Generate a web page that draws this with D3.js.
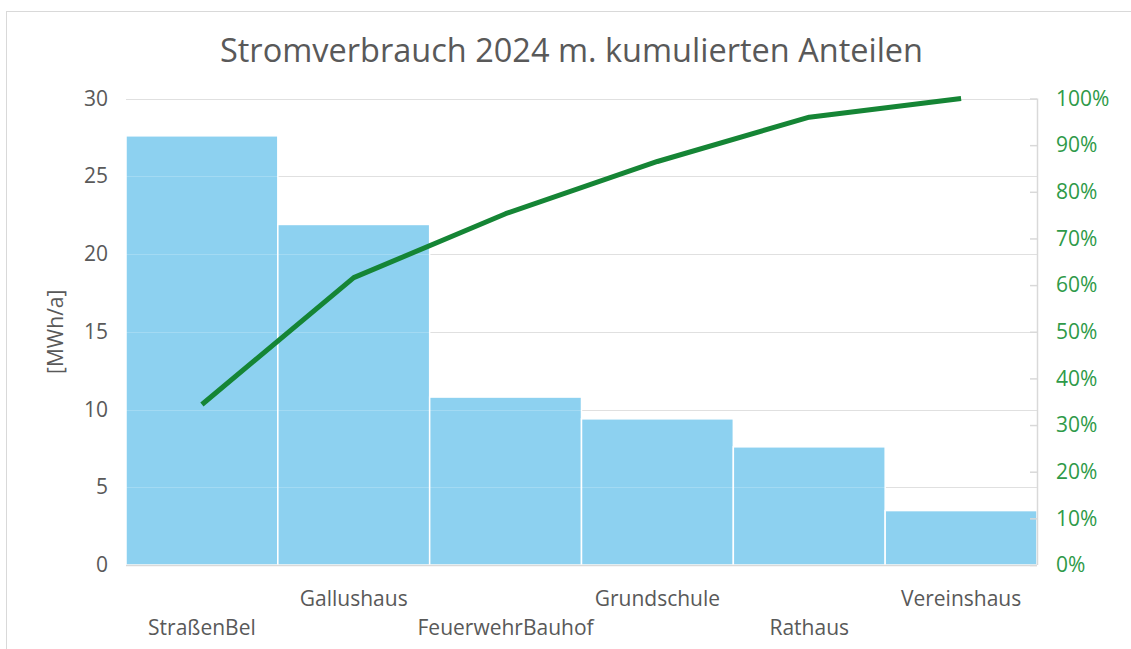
<!DOCTYPE html>
<html>
<head>
<meta charset="utf-8">
<script src="https://cdn.jsdelivr.net/npm/d3@7"></script>
<style>
  html, body { margin: 0; padding: 0; background: #fff; }
  svg { display: block; }
  text { font-family: "Open Sans", "Noto Sans", sans-serif; }
</style>
</head>
<body>
<svg id="chart" width="1131" height="649"></svg>
<script>
const titleText = "Stromverbrauch 2024 m. kumulierten Anteilen";
const yAxisTitle = "[MWh/a]";
const categories = ["StraßenBel", "Gallushaus", "FeuerwehrBauhof", "Grundschule", "Rathaus", "Vereinshaus"];
const consumption = [27.6, 21.9, 10.8, 9.4, 7.6, 3.5];
const cumulativeShare = [34.4, 61.6, 75.3, 86.5, 96.0, 100];
const leftTicks = [0, 5, 10, 15, 20, 25, 30];
const rightTicks = [0, 10, 20, 30, 40, 50, 60, 70, 80, 90, 100];

const svg = d3.select("#chart");
const W = 1131, H = 649;
const plot = { left: 126, right: 1037, top: 98.5, bottom: 565 };

// outer chart border
svg.append("rect")
  .attr("x", 6.5).attr("y", 11.5)
  .attr("width", W + 10).attr("height", H + 10)
  .attr("fill", "#fff").attr("stroke", "#d9d9d9").attr("stroke-width", 1);

const x = d3.scaleBand().domain(categories).range([plot.left, plot.right]).padding(0);
const y = d3.scaleLinear().domain([0, 30]).range([plot.bottom, plot.top]);
const y2 = d3.scaleLinear().domain([0, 100]).range([plot.bottom, plot.top]);

// gridlines
svg.append("g").selectAll("line").data(leftTicks.filter(d => d > 0)).join("line")
  .attr("x1", plot.left).attr("x2", plot.right)
  .attr("y1", d => Math.round(y(d)) + 0.5).attr("y2", d => Math.round(y(d)) + 0.5)
  .attr("stroke", "#d9d9d9").attr("stroke-width", 1.2);

// bars
svg.append("g").selectAll("rect").data(categories).join("rect")
  .attr("x", d => x(d))
  .attr("y", (d, i) => y(consumption[i]))
  .attr("width", x.bandwidth())
  .attr("height", (d, i) => y(0) - y(consumption[i]))
  .attr("fill", "#8dd1f0")
  .attr("stroke", "#ffffff").attr("stroke-width", 1.5);

// faint gridlines visible through bars
svg.append("g").selectAll("line").data(leftTicks.filter(d => d > 0)).join("line")
  .attr("x1", plot.left).attr("x2", plot.right)
  .attr("y1", d => Math.round(y(d)) + 0.5).attr("y2", d => Math.round(y(d)) + 0.5)
  .attr("stroke", "#ffffff").attr("stroke-opacity", 0.2).attr("stroke-width", 1.2);

// bottom axis line
svg.append("line")
  .attr("x1", plot.left).attr("x2", plot.right)
  .attr("y1", plot.bottom + 0.5).attr("y2", plot.bottom + 0.5)
  .attr("stroke", "#d9d9d9").attr("stroke-width", 1.5);

// left axis labels
const leftAxis = d3.axisLeft(y).tickValues(leftTicks).tickSize(0).tickPadding(18);
const gl = svg.append("g").attr("transform", `translate(${plot.left},0)`).call(leftAxis);
gl.select(".domain").remove();
gl.selectAll("text").attr("fill", "#595959").attr("font-size", 21)
  .attr("font-family", "'Open Sans', sans-serif");

// right axis
const rightAxis = d3.axisRight(y2).tickValues(rightTicks).tickSize(-7).tickPadding(19)
  .tickFormat(d => d + "%");
const gr = svg.append("g").attr("transform", `translate(${plot.right},0)`).call(rightAxis);
gr.select(".domain").attr("stroke", "#d9d9d9").attr("stroke-width", 1.5).attr("d", `M0.5,${plot.top}V${plot.bottom}`);
gr.selectAll(".tick line").attr("stroke", "#d9d9d9").attr("stroke-width", 1.5);
gr.selectAll("text").attr("fill", "#2e9a48").attr("font-size", 21)
  .attr("font-family", "'Open Sans', sans-serif");

// x labels (alternating rows)
svg.append("g").selectAll("text").data(categories).join("text")
  .attr("x", d => x(d) + x.bandwidth() / 2)
  .attr("y", (d, i) => i % 2 === 0 ? 635 : 606)
  .attr("text-anchor", "middle")
  .attr("fill", "#595959").attr("font-size", 21)
  .text(d => d);

// cumulative line
const line = d3.line()
  .x((d, i) => x(categories[i]) + x.bandwidth() / 2)
  .y(d => y2(d));
svg.append("path").datum(cumulativeShare)
  .attr("d", line)
  .attr("fill", "none").attr("stroke", "#158535").attr("stroke-width", 5)
  .attr("stroke-linejoin", "round");

// title
svg.append("text")
  .attr("x", 571.5).attr("y", 61.5)
  .attr("text-anchor", "middle")
  .attr("fill", "#595959").attr("font-size", 32.5)
  .text(titleText);

// y axis title
svg.append("text")
  .attr("transform", `translate(63,${(plot.top + plot.bottom) / 2}) rotate(-90)`)
  .attr("text-anchor", "middle")
  .attr("fill", "#595959").attr("font-size", 21)
  .text(yAxisTitle);
</script>
</body>
</html>
